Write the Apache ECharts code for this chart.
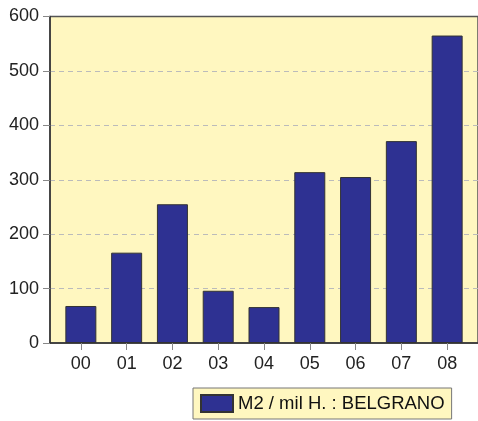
<!DOCTYPE html>
<html>
<head>
<meta charset="utf-8">
<script src="https://cdn.jsdelivr.net/npm/echarts@6/dist/echarts.min.js"></script>
<style>html,body{margin:0;padding:0;background:#fff;}#c{width:478px;height:421px;}</style>
</head>
<body>
<div id="c"></div>
<script>
const categories = ['00','01','02','03','04','05','06','07','08'];
const values = [68, 166, 255, 96, 66, 314, 305, 371, 565];
const yTicks = [0, 100, 200, 300, 400, 500, 600];
const seriesName = 'M2 / mil H. : BELGRANO';

const idx = categories.map((c, i) => i);
const barData = values.map((v, i) => [i, v]);
const font = 'Liberation Sans, Arial, sans-serif';

const chart = echarts.init(document.getElementById('c'), null, {renderer: 'canvas'});
chart.setOption({
  animation: false,
  backgroundColor: '#ffffff',
  grid: {
    left: 50, right: -2, top: 16.5, bottom: 78,
    show: true, backgroundColor: '#FFF7C0', borderColor: '#555555', borderWidth: 1.5
  },
  xAxis: {
    type: 'value',
    min: -0.674, max: categories.length - 1 + 0.674,
    splitLine: {show: false},
    axisLine: {show: true, onZero: false, lineStyle: {color: '#333333', width: 1.5}},
    axisTick: {show: true, length: 7, customValues: idx, lineStyle: {color: '#888888'}},
    axisLabel: {
      customValues: idx, margin: 12,
      fontFamily: font, fontSize: 18, color: '#222222',
      formatter: v => categories[Math.round(v)]
    }
  },
  yAxis: {
    type: 'value', min: 0, max: 600, interval: 100,
    axisLine: {show: true, onZero: false, lineStyle: {color: '#333333', width: 1.5}},
    axisTick: {show: true, length: 7, lineStyle: {color: '#888888'}},
    axisLabel: {margin: 11, fontFamily: font, fontSize: 18, color: '#222222',
      formatter: v => yTicks.includes(v) ? String(v) : ''},
    splitLine: {show: true, showMinLine: false, showMaxLine: false,
      lineStyle: {color: '#BBBBBB', type: [5, 4], width: 1}}
  },
  legend: {
    show: true, left: 193, top: 388,
    padding: [6, 7, 6, 7],
    backgroundColor: '#FFF7C0', borderColor: '#777777', borderWidth: 1,
    itemWidth: 32, itemHeight: 17, itemGap: 6,
    textStyle: {fontFamily: font, fontSize: 18.5, color: '#111111'},
    data: [{name: seriesName, icon: 'rect'}]
  },
  series: [{
    name: seriesName, type: 'bar', data: barData, barWidth: 31,
    itemStyle: {color: '#2E3192', borderColor: '#333333', borderWidth: 1}
  }]
});
</script>
</body>
</html>
